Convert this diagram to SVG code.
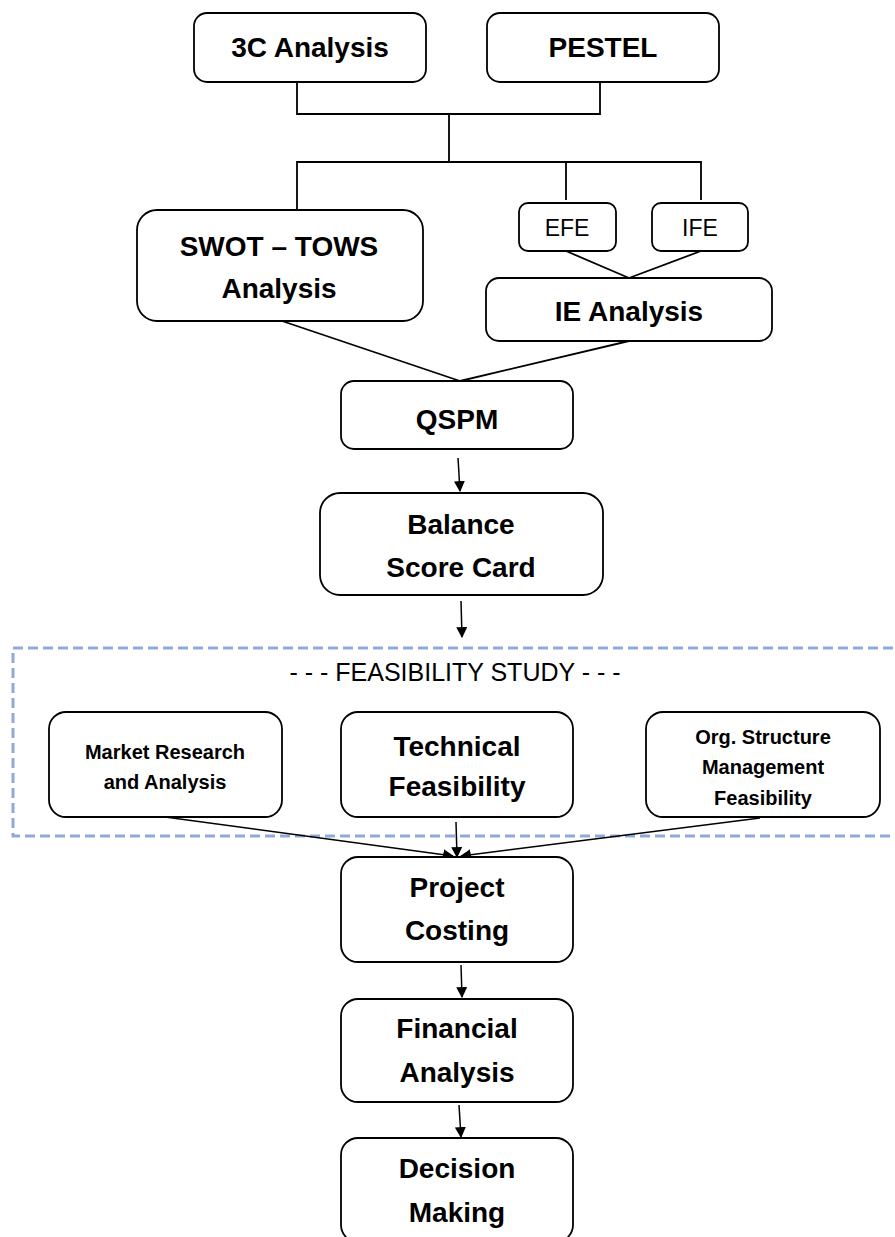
<svg xmlns="http://www.w3.org/2000/svg" width="895" height="1237" viewBox="0 0 895 1237">
<style>
.box{fill:#fff;stroke:#000;stroke-width:1.8}
.t{font-family:"Liberation Sans",Arial,sans-serif;font-weight:bold;text-anchor:middle;fill:#000}
.big{font-size:28px}
.sm{font-size:20px}
.efe{font-size:23px;font-weight:normal}
.ttl{font-size:25px;font-weight:normal}
.ln{fill:none;stroke:#000;stroke-width:1.8}
.arr{fill:none;stroke:#000;stroke-width:1.5;marker-end:url(#ah)}
</style>
<defs>
<marker id="ah" viewBox="0 0 10 10" refX="9" refY="5" markerWidth="11" markerHeight="11" markerUnits="userSpaceOnUse" orient="auto">
<path d="M0,0 L10,5 L0,10 z" fill="#000"/>
</marker>
</defs>
<rect width="895" height="1237" fill="#fff"/>
<g id="feasibility-frame">
<rect x="13" y="648" width="892" height="188" fill="none" stroke="#8eaadb" stroke-width="3" stroke-dasharray="10 5"/>
<text x="455" y="681" class="t ttl">- - - FEASIBILITY STUDY - - -</text>
</g>
<g id="connectors">
<path class="ln" d="M297,83 V114 H600 V83 M449,114 V162 M297,210 V162 H701 V200 M566,162 V200"/>
<path class="ln" d="M566,251 L629,278 M701,251 L629,278"/>
<path class="ln" d="M282,321 L460,381 M629,341 L460,381"/>
<path class="arr" d="M458,458 L460,491"/>
<path class="arr" d="M461,601 L462,637"/>
<path class="arr" d="M165,817 L453,856"/>
<path class="arr" d="M456,822 L457,857"/>
<path class="arr" d="M760,818 L461,856"/>
<path class="arr" d="M461,965 L462,997"/>
<path class="arr" d="M459,1105 L461,1137"/>
</g>
<g id="n-3c"><rect class="box" x="194" y="13" width="232" height="69" rx="13"/><text class="t big" x="310" y="57">3C Analysis</text></g>
<g id="n-pestel"><rect class="box" x="487" y="13" width="232" height="69" rx="13"/><text class="t big" x="603" y="57">PESTEL</text></g>
<g id="n-swot"><rect class="box" x="137" y="210" width="286" height="111" rx="20"/><text class="t big" x="279" y="256">SWOT – TOWS</text><text class="t big" x="279" y="298">Analysis</text></g>
<g id="n-efe"><rect class="box" x="519" y="203" width="97" height="48" rx="9"/><text class="t efe" x="567" y="236">EFE</text></g>
<g id="n-ife"><rect class="box" x="652" y="203" width="96" height="48" rx="9"/><text class="t efe" x="700" y="236">IFE</text></g>
<g id="n-ie"><rect class="box" x="486" y="278" width="286" height="63" rx="13"/><text class="t big" x="629" y="321">IE Analysis</text></g>
<g id="n-qspm"><rect class="box" x="341" y="381" width="232" height="68" rx="13"/><text class="t big" x="457" y="429">QSPM</text></g>
<g id="n-bsc"><rect class="box" x="320" y="493" width="283" height="102" rx="20"/><text class="t big" x="461" y="534">Balance</text><text class="t big" x="461" y="577">Score Card</text></g>
<g id="n-market"><rect class="box" x="49" y="712" width="233" height="105" rx="17"/><text class="t sm" x="165" y="759">Market Research</text><text class="t sm" x="165" y="789">and Analysis</text></g>
<g id="n-tech"><rect class="box" x="341" y="712" width="232" height="105" rx="17"/><text class="t big" x="457" y="756">Technical</text><text class="t big" x="457" y="796">Feasibility</text></g>
<g id="n-org"><rect class="box" x="646" y="712" width="234" height="105" rx="17"/><text class="t sm" x="763" y="744">Org. Structure</text><text class="t sm" x="763" y="774">Management</text><text class="t sm" x="763" y="805">Feasibility</text></g>
<g id="n-costing"><rect class="box" x="341" y="857" width="232" height="105" rx="17"/><text class="t big" x="457" y="897">Project</text><text class="t big" x="457" y="940">Costing</text></g>
<g id="n-fin"><rect class="box" x="341" y="999" width="232" height="103" rx="17"/><text class="t big" x="457" y="1038">Financial</text><text class="t big" x="457" y="1082">Analysis</text></g>
<g id="n-dec"><rect class="box" x="341" y="1138" width="232" height="104" rx="17"/><text class="t big" x="457" y="1178">Decision</text><text class="t big" x="457" y="1222">Making</text></g>
</svg>
